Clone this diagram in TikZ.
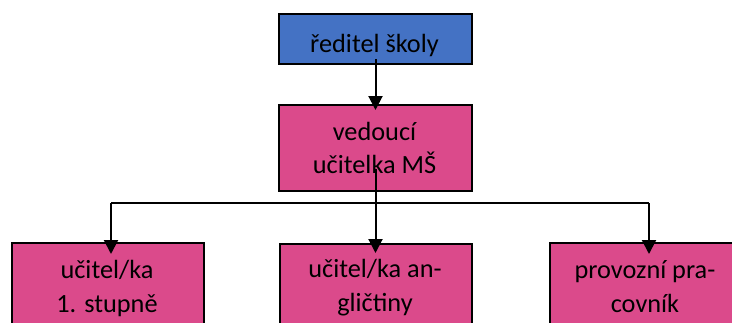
\documentclass[tikz,border=0pt]{standalone}
\usepackage{fontspec}
\setmainfont{Carlito}
\usetikzlibrary{arrows.meta,calc}
\definecolor{boxblue}{RGB}{68,114,196}
\definecolor{boxpink}{RGB}{219,74,139}
\begin{document}
\begin{tikzpicture}[x=1pt,y=-1pt,
  box/.style={draw=black,line width=2pt,minimum width=192pt,inner sep=0pt,anchor=north west},
  lbl/.style={font=\fontsize{26.3}{33}\selectfont,align=center,anchor=base,inner sep=0pt},
  lblb/.style={lbl,font=\fontsize{26.3}{34}\selectfont},
  line/.style={line width=2pt},
  conn/.style={line width=2pt,-{Triangle[length=14pt,width=14pt]}}]
\clip (0,0) rectangle (732,322);
\fill[white] (0,0) rectangle (732,322);
% boxes
\node[box,fill=boxblue,minimum width=193pt,minimum height=50pt] (dir) at (278,13) {};
\node[box,fill=boxpink,minimum width=193pt,minimum height=86pt] (ved) at (278,104) {};
\node[box,fill=boxpink,minimum height=110pt] (u1) at (11,242) {};
\node[box,fill=boxpink,minimum height=110pt] (u2) at (279,243) {};
\node[box,fill=boxpink,minimum height=110pt] (pp) at (549,242) {};
% labels (anchor = baseline of the last line)
\node[lbl] (tdir) at (374.5,52) {ředitel školy};
\node[lbl] (tved) at (374.5,173) {vedoucí\\učitelka MŠ};
\node[lblb] (tu1) at (107,312) {učitel/ka\\1. stupně};
\node[lblb] (tu2) at (375,311) {učitel/ka an-\\gličtiny};
\node[lblb] (tpp) at (645,312) {provozní pra-\\covník};
% connectors
\coordinate (s1) at ($(dir.center)+(0,20)$);
\coordinate (s2) at ($(ved.center)+(0,21)$);
\coordinate (hl) at (111,203);
\coordinate (hr) at (649,203);
\draw[conn] (s1) -- ($(s1 |- ved.north)+(0,6)$);
\draw[conn] (s2) -- ($(s2 |- u2.north)+(0,10)$);
\draw[line] (hl) -- (hr);
\draw[conn] (hl) -- ($(hl |- u1.north)+(0,12)$);
\draw[conn] (hr) -- ($(hr |- pp.north)+(0,12)$);
\end{tikzpicture}
\end{document}
